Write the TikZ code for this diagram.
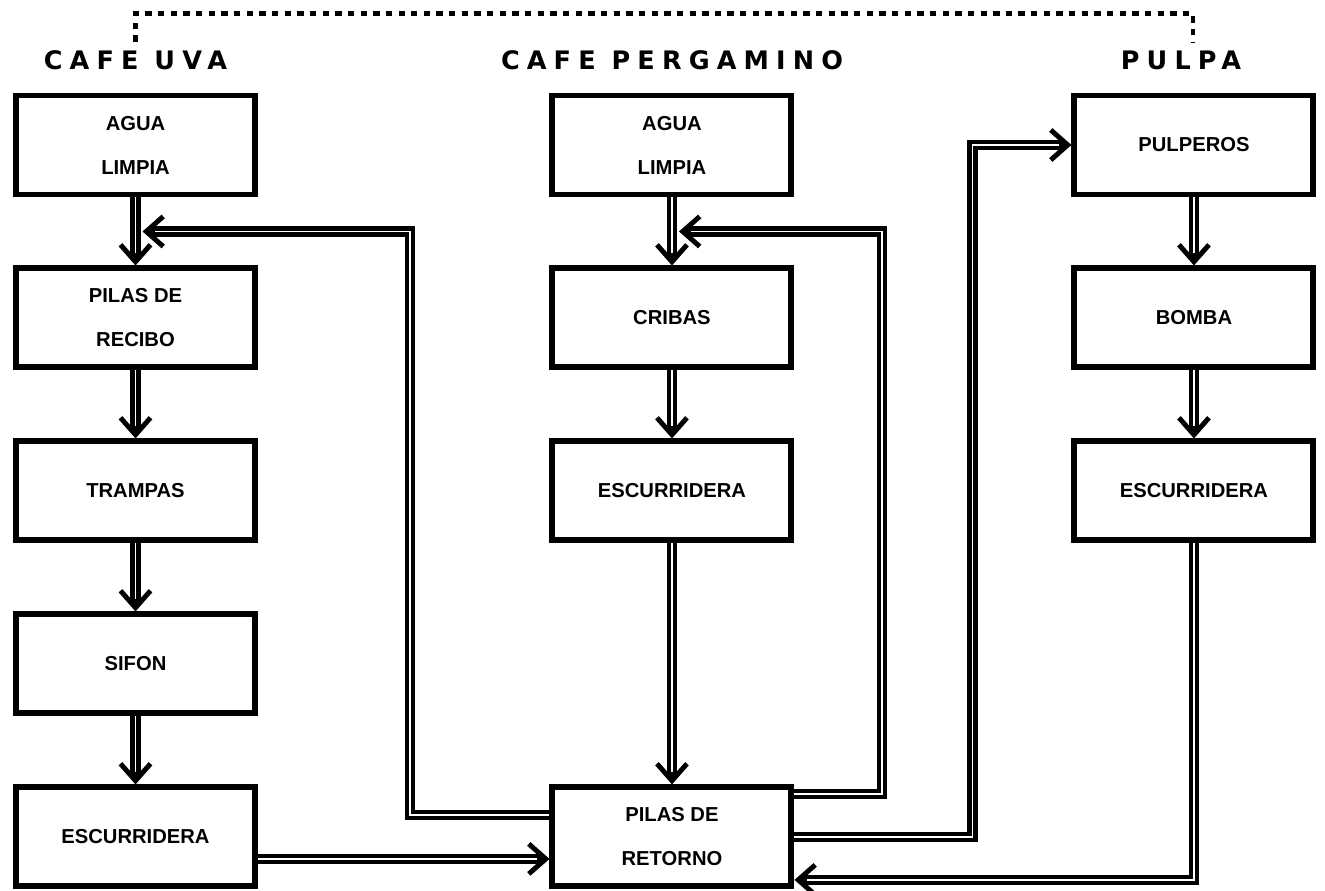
\documentclass[tikz,border=0pt]{standalone}
\usepackage{fontspec}
\setmainfont{Liberation Sans}
\newfontfamily\headfont[LetterSpace=28]{DejaVu Sans}
\usetikzlibrary{arrows.meta,positioning,calc}

\begin{document}
\begin{tikzpicture}[
    node distance=1.36cm,
    box/.style={rectangle, draw, line width=3.4pt, minimum width=4.78cm, minimum height=1.98cm, align=center, font=\bfseries\fontsize{11.5}{25}\selectfont},
    head/.style={inner sep=0pt, font=\headfont\bfseries\fontsize{14.5}{16}\selectfont},
    pipe/.style={line width=6pt, postaction={draw=white, line width=1pt, -, shorten >=7pt}},
    flow/.style={pipe, -{Straight Barb[line width=2.8pt, length=0.34cm, width=0.6cm]}},
    link/.style={line width=2.8pt, dash pattern=on 3.6pt off 3.6pt}
]
    \useasboundingbox (0,0) rectangle (26.5,-17.82);
    % cafe uva
    \node [box] (aguau) at (2.71,-2.9) {AGUA\\LIMPIA};
    \node [box, below=of aguau] (recibo) {PILAS DE\\RECIBO};
    \node [box, below=of recibo] (trampas) {TRAMPAS};
    \node [box, below=of trampas] (sifon) {SIFON};
    \node [box, below=of sifon] (escu) {ESCURRIDERA};
    % cafe pergamino
    \node [box, right=5.83cm of aguau] (aguam) {AGUA\\LIMPIA};
    \node [box, below=of aguam] (cribas) {CRIBAS};
    \node [box, below=of cribas] (escm) {ESCURRIDERA};
    \node [box, right=5.83cm of escu] (retorno) {PILAS DE\\RETORNO};
    % pulpa
    \node [box, right=5.54cm of aguam] (pulperos) {PULPEROS};
    \node [box, below=of pulperos] (bomba) {BOMBA};
    \node [box, below=of bomba] (escp) {ESCURRIDERA};
    % titles
    \node [head, above=0.44cm of aguau] (uvat) {CAFE UVA};
    \node [head, above=0.44cm of aguam] (pergt) {CAFE PERGAMINO};
    \node [head, above=0.44cm of pulperos, xshift=-0.26cm] (pulpat) {PULPA};
    \draw [link] ([yshift=.18cm]uvat.north) -- ++(0,.56) -| ([xshift=.24cm,yshift=.18cm]pulpat.north);

    \coordinate (ju) at ($(aguau.south)!.5!(recibo.north)$);
    \coordinate (jm) at ($(aguam.south)!.5!(cribas.north)$);

    \draw [flow] (aguau) -- (recibo);
    \draw [flow] (recibo) -- (trampas);
    \draw [flow] (trampas) -- (sifon);
    \draw [flow] (sifon) -- (escu);
    \draw [flow] (aguam) -- (cribas);
    \draw [flow] (cribas) -- (escm);
    \draw [flow] (escm) -- (retorno);
    \draw [flow] (pulperos) -- (bomba);
    \draw [flow] (bomba) -- (escp);

    \draw [flow] ([yshift=-.44cm]escu.east) -- ([yshift=-.44cm]retorno.west);
    \draw [flow] ([yshift=.44cm]retorno.west) -| ([xshift=5.49cm]ju) -- ([xshift=.14cm]ju);
    \draw [flow] ([yshift=.86cm]retorno.east) -| ([xshift=4.2cm]jm) -- ([xshift=.14cm]jm);
    \draw [flow] (retorno.east) -| ([xshift=-1.98cm]pulperos.west) -- (pulperos.west);
    \draw [flow] (escp) |- ([yshift=-.86cm]retorno.east);
\end{tikzpicture}
\end{document}
